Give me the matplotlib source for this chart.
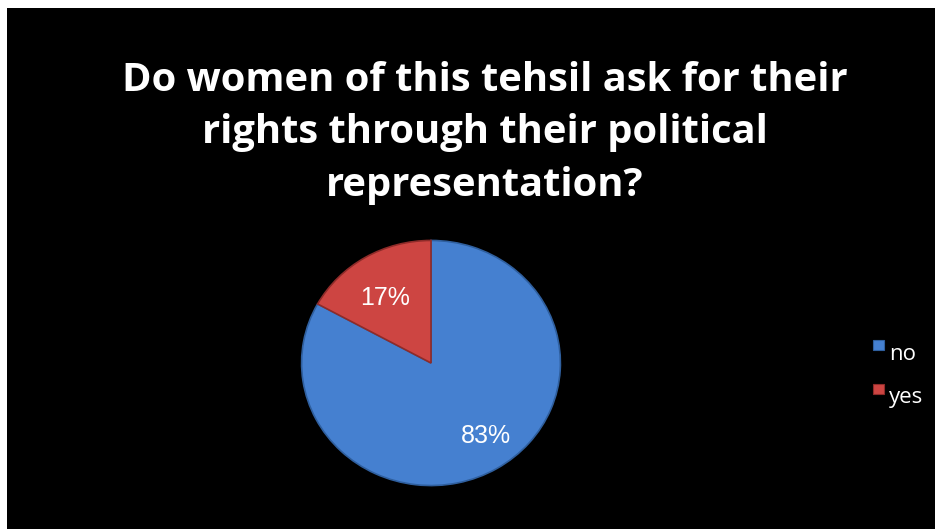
import numpy as np
import matplotlib.pyplot as plt
from matplotlib.patches import Rectangle

title = "Do women of this tehsil ask for their\nrights through their political\nrepresentation?"
labels = ['no', 'yes']
shares = [83, 17]
colors = ['#4580d0', '#cd4542']
edge_colors = ['#2f5f9e', '#8e2b29']
label_dist = [0.73, 0.64]
label_turn = [5, 3]  # degrees, nudges each % label off the wedge middle

W, H = 935, 529
fig = plt.figure(figsize=(W / 100, H / 100), dpi=100)
fig.patch.set_facecolor('white')

# black chart area, leaving a thin white strip at top and left
bg = fig.add_axes([7 / W, 0, 1 - 7 / W, 1 - 8 / H])
bg.set_facecolor('black')
bg.set_xticks([])
bg.set_yticks([])
for s in bg.spines.values():
    s.set_visible(False)

fig.text(485 / W, 1 - 133 / H, title, ha='center', va='center', color='white',
         fontsize=28.7, fontweight='bold', family='Open Sans', linespacing=1.44)

# pie
cx, cy, rw, rh = 431, 363, 132, 125
ax = fig.add_axes([(cx - rw) / W, (H - cy - rh) / H, 2 * rw / W, 2 * rh / H])
ax.set_facecolor('none')
wedges, texts, autotexts = ax.pie(shares, colors=colors, startangle=90, counterclock=False,
                                  autopct='%d%%', pctdistance=0.68,
                                  wedgeprops=dict(linewidth=1.2),
                                  textprops=dict(color='white', fontsize=18, family='Liberation Sans'))
for w, ec, t, d, turn in zip(wedges, edge_colors, autotexts, label_dist, label_turn):
    w.set_edgecolor(ec)
    mid = np.deg2rad((w.theta1 + w.theta2) / 2 + turn)
    t.set_position((d * np.cos(mid), d * np.sin(mid)))
ax.set_xlim(-1.02, 1.02)
ax.set_ylim(-1.02, 1.02)
ax.set_aspect('auto')
ax.axis('off')

# legend with markers sitting above the text baseline
leg_y = [345, 389]
for lab, col, ec, y in zip(labels, colors, edge_colors, leg_y):
    fig.patches.append(Rectangle((873 / W, 1 - (y + 5) / H), 11 / W, 10 / H,
                                 transform=fig.transFigure, facecolor=col,
                                 edgecolor=ec, linewidth=0.8))
    fig.text(889 / W, 1 - (y + 9) / H, lab, ha='left', va='center', color='white',
             fontsize=16, family='Open Sans')

fig.savefig('out.png', dpi=100, facecolor=fig.get_facecolor())
